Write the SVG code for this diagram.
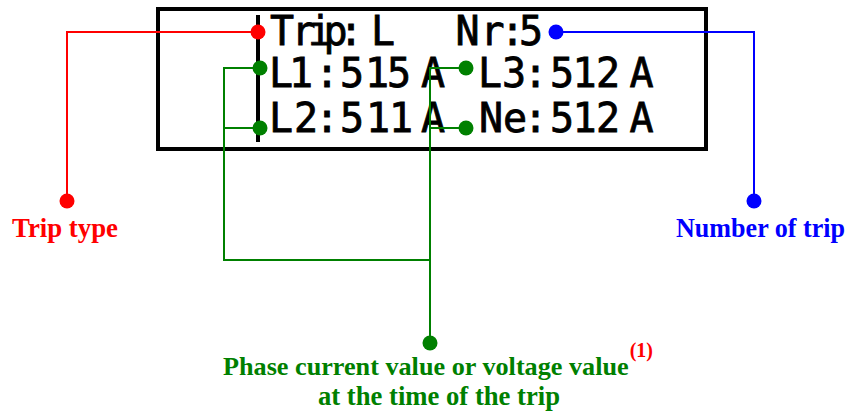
<svg xmlns="http://www.w3.org/2000/svg" width="851" height="416" viewBox="0 0 851 416">
<style>
.lcd{font-family:"DejaVu Sans Mono","Liberation Mono",monospace;font-size:40px;fill:#000;stroke:#000;stroke-width:0.8;text-anchor:middle}
.lbl{font-family:"Liberation Serif","Times New Roman",serif;font-size:27px;font-weight:bold}
.red{stroke:#ff0000;fill:none;stroke-width:2}
.blue{stroke:#0000ff;fill:none;stroke-width:2}
.green{stroke:#008000;fill:none;stroke-width:2}
</style>
<rect width="851" height="416" fill="#fff"/>
<g id="display">
<rect x="158" y="9" width="548" height="140" fill="#fff" stroke="#000" stroke-width="4"/>
<line x1="258" y1="15" x2="258" y2="142" stroke="#000" stroke-width="4"/>
<text class="lcd" x="282 303.5 320 335.5 351 383 467.5 492.5 512.5 531" y="45">Trip:LNr:5</text>
<text class="lcd" x="281 301 327 352 377 399 433 490 514 535.5 562 584.5 608 641.5" y="87">L1:515AL3:512A</text>
<text class="lcd" x="281 306 327 352 378 401 433 491 515 535.5 562 584.5 608 641.5" y="132">L2:511ANe:512A</text>
</g>
<g id="connectors">
<polyline class="red" points="258,32 67,32 67,201"/>
<polyline class="blue" points="556,32 754,32 754,201"/>
<polyline class="green" points="260,68 224,68 224,260 430,260"/>
<line class="green" x1="224" y1="128" x2="260" y2="128"/>
<polyline class="green" points="466,68 430,68 430,343"/>
<line class="green" x1="430" y1="128" x2="466" y2="128"/>
<circle cx="258" cy="32" r="7.5" fill="#ff0000"/>
<circle cx="67" cy="201" r="7.5" fill="#ff0000"/>
<circle cx="556" cy="32" r="7.5" fill="#0000ff"/>
<circle cx="754" cy="201" r="7.5" fill="#0000ff"/>
<circle cx="260" cy="68" r="7.5" fill="#008000"/>
<circle cx="260" cy="128" r="7.5" fill="#008000"/>
<circle cx="466" cy="68" r="7.5" fill="#008000"/>
<circle cx="466" cy="128" r="7.5" fill="#008000"/>
<circle cx="430" cy="343" r="7.5" fill="#008000"/>
</g>
<g id="trip-type">
<text class="lbl" x="12" y="237" fill="#ff0000" textLength="106" lengthAdjust="spacingAndGlyphs">Trip type</text>
</g>
<g id="number-of-trip">
<text class="lbl" x="676" y="237" fill="#0000ff" textLength="169" lengthAdjust="spacingAndGlyphs">Number of trip</text>
</g>
<g id="phase-current">
<text class="lbl" x="223" y="375" fill="#008000" style="font-size:26.2px">Phase current value or voltage value<tspan dx="1" dy="-18" fill="#ff0000" style="font-size:20px">(1)</tspan></text>
<text class="lbl" x="318" y="405" fill="#008000" textLength="242" lengthAdjust="spacingAndGlyphs">at the time of the trip</text>
</g>
</svg>
